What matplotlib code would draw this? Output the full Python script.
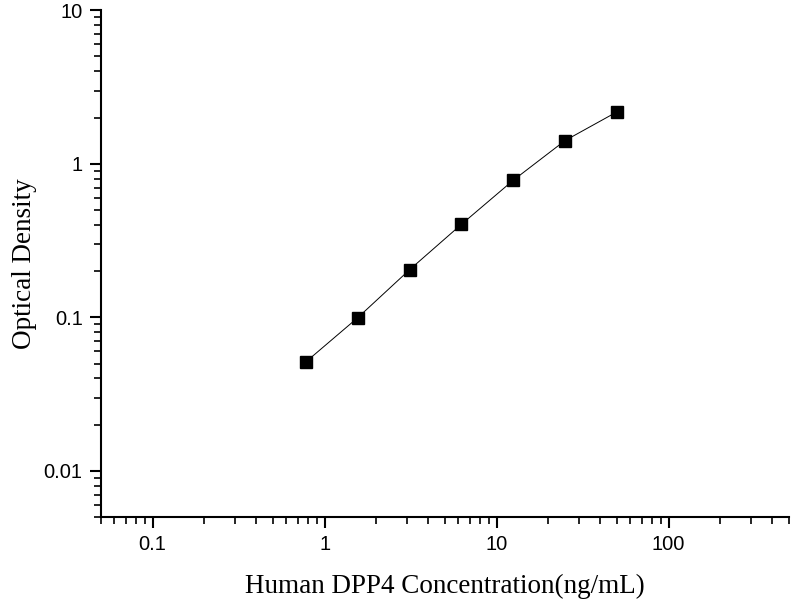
import numpy as np
import matplotlib
matplotlib.use("Agg")
import matplotlib.pyplot as plt
from matplotlib.ticker import LogLocator, FixedLocator, FixedFormatter, NullFormatter

# standard curve points
conc = [0.78, 1.56, 3.125, 6.25, 12.5, 25, 50]
od = [0.0514, 0.0996, 0.2046, 0.4036, 0.781, 1.416, 2.175]

x_ticks = [0.1, 1, 10, 100]
x_labels = ["0.1", "1", "10", "100"]
y_ticks = [0.01, 0.1, 1, 10]
y_labels = ["0.01", "0.1", "1", "10"]

fig = plt.figure(figsize=(8, 6), dpi=100)
ax = fig.add_axes([0.126, 0.138, 0.86, 0.845])

ax.plot(conc, od, color="black", lw=0.7, marker="s", ms=8.5,
        mfc="black", mec="black")

ax.set_xscale("log")
ax.set_yscale("log")
ax.set_xlim(0.05, 500)
ax.set_ylim(0.005, 10)

for s in ["top", "right"]:
    ax.spines[s].set_visible(False)
for s in ["left", "bottom"]:
    ax.spines[s].set_linewidth(1.5)

ax.xaxis.set_major_locator(FixedLocator(x_ticks))
ax.xaxis.set_major_formatter(FixedFormatter(x_labels))
ax.yaxis.set_major_locator(FixedLocator(y_ticks))
ax.yaxis.set_major_formatter(FixedFormatter(y_labels))
ax.xaxis.set_minor_locator(LogLocator(base=10, subs=np.arange(2, 10), numticks=20))
ax.yaxis.set_minor_locator(LogLocator(base=10, subs=np.arange(2, 10), numticks=20))
ax.xaxis.set_minor_formatter(NullFormatter())
ax.yaxis.set_minor_formatter(NullFormatter())

ax.tick_params(which="major", direction="out", length=8, width=1.5,
               labelsize=14.5, pad=5)
ax.tick_params(which="minor", direction="out", length=5, width=1.2)
for lab in ax.get_xticklabels() + ax.get_yticklabels():
    lab.set_fontfamily("Liberation Sans")

ax.set_xlabel("Human DPP4 Concentration(ng/mL)", family="Liberation Serif",
              fontsize=19.5, labelpad=14)
ax.set_ylabel("Optical Density", family="Liberation Serif",
              fontsize=19.5, labelpad=5)

fig.savefig("out.png", dpi=100)
